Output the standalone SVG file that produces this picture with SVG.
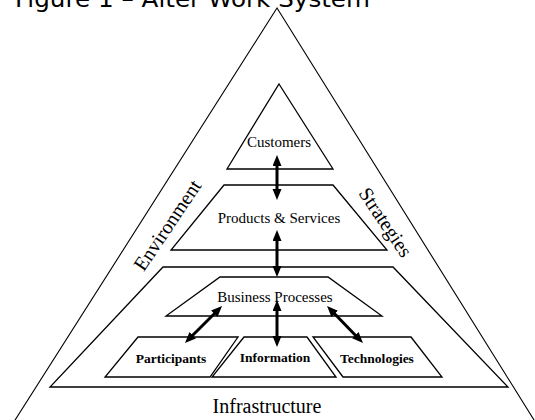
<svg xmlns="http://www.w3.org/2000/svg" width="535" height="420" viewBox="0 0 535 420">
  <style>
    .shape { fill: none; stroke: #000; stroke-width: 1.3; stroke-linejoin: miter; }
    .outer { fill: none; stroke: #000; stroke-width: 1.1; }
    .lbl { font-family: "Liberation Serif", "Times New Roman", serif; font-size: 15px; fill: #000; text-anchor: middle; }
    .sub { font-family: "Liberation Serif", "Times New Roman", serif; font-size: 13.5px; font-weight: bold; fill: #000; text-anchor: middle; }
    .big { font-family: "Liberation Serif", "Times New Roman", serif; font-size: 20px; fill: #000; text-anchor: middle; }
    .title { font-family: "DejaVu Sans", Verdana, sans-serif; font-size: 23px; fill: #000; }
    .conn { stroke: #000; stroke-width: 3; fill: none; marker-start: url(#head); marker-end: url(#head); }
  </style>
  <defs>
    <marker id="head" markerUnits="userSpaceOnUse" markerWidth="12" markerHeight="10" refX="5" refY="4.5" orient="auto-start-reverse">
      <path d="M0,0 L11,4.5 L0,9 z" fill="#000"/>
    </marker>
  </defs>

  <rect width="535" height="420" fill="#fff"/>

  <text class="title" x="15" y="7" textLength="355" lengthAdjust="spacingAndGlyphs">Figure 1 – Alter Work System</text>

  <!-- outer frame -->
  <g id="frame">
    <polyline class="outer" points="10,428 277,8 539,428"/>
    <text class="big" transform="translate(173,229) rotate(-56)">Environment</text>
    <text class="big" transform="translate(380,226) rotate(56)">Strategies</text>
    <text class="big" x="267" y="413">Infrastructure</text>
  </g>

  <g id="customers">
    <polygon class="shape" points="279,84 333,169 227,169"/>
    <text class="lbl" x="279" y="147">Customers</text>
  </g>

  <g id="products-services">
    <polygon class="shape" points="224,185 333,185 387,250 171,250"/>
    <text class="lbl" x="279" y="223">Products &amp; Services</text>
  </g>

  <g id="work-practices">
    <polygon class="shape" points="163,267 393,267 508,387 50,387"/>
  </g>

  <g id="business-processes">
    <polygon class="shape" points="220,277 328,277 382,316 166,316"/>
    <text class="lbl" x="275" y="302">Business Processes</text>
  </g>

  <g id="participants">
    <polygon class="shape" points="138,337 238,337 210,377 105,377"/>
    <text class="sub" x="171" y="363">Participants</text>
  </g>

  <g id="information">
    <polygon class="shape" points="244,337 307,337 336,377 212,377"/>
    <text class="sub" x="275" y="362">Information</text>
  </g>

  <g id="technologies">
    <polygon class="shape" points="313,337 411,337 442,377 343,377"/>
    <text class="sub" x="377" y="363">Technologies</text>
  </g>

  <g id="connectors">
    <line class="conn" x1="277" y1="161" x2="277" y2="194"/>
    <line class="conn" x1="277" y1="236" x2="277" y2="271"/>
    <line class="conn" x1="189.2" y1="338.8" x2="217.8" y2="310.2"/>
    <line class="conn" x1="277" y1="306" x2="277" y2="341"/>
    <line class="conn" x1="331.2" y1="310.3" x2="358.8" y2="338.7"/>
  </g>
</svg>
